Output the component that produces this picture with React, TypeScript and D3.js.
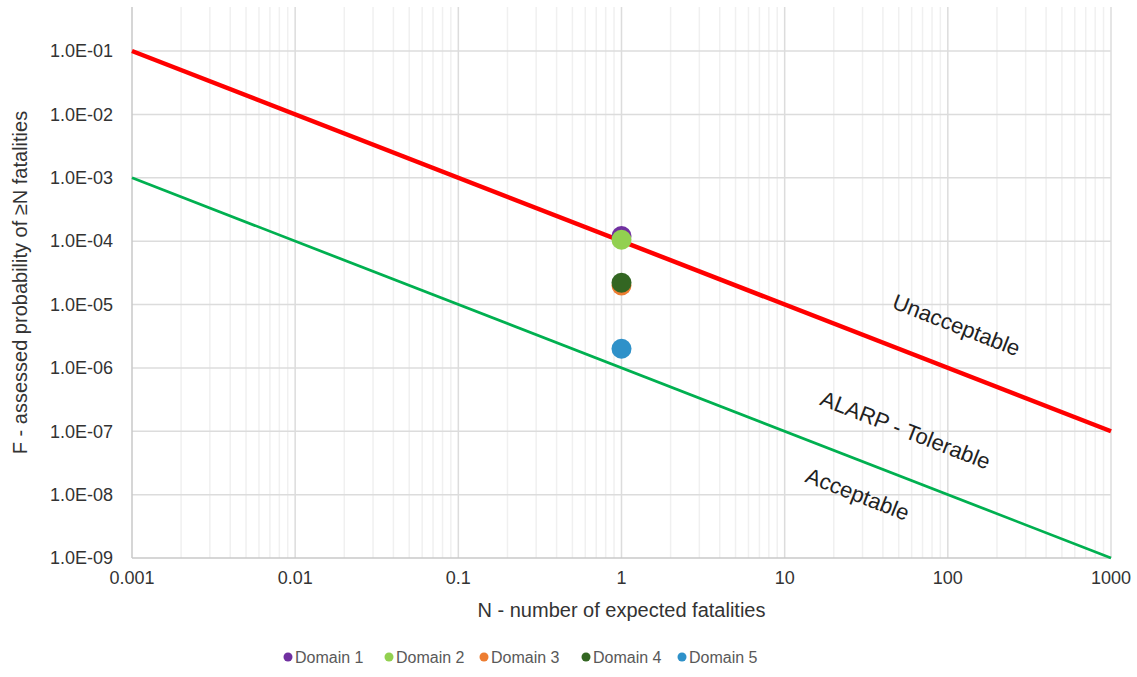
import * as d3 from "d3";
import { useRef, useEffect } from "react";

const xTicks = [0.001, 0.01, 0.1, 1, 10, 100, 1000];
const xTickLabels = ["0.001", "0.01", "0.1", "1", "10", "100", "1000"];
const yTicks = [1e-1, 1e-2, 1e-3, 1e-4, 1e-5, 1e-6, 1e-7, 1e-8, 1e-9];
const yTickLabels = ["1.0E-01", "1.0E-02", "1.0E-03", "1.0E-04", "1.0E-05", "1.0E-06", "1.0E-07", "1.0E-08", "1.0E-09"];

// criterion lines (N, F)
const unacceptableN = [0.001, 1000];
const unacceptableF = [1e-1, 1e-7];
const acceptableN = [0.001, 1000];
const acceptableF = [1e-3, 1e-9];

const domains = ["Domain 1", "Domain 2", "Domain 3", "Domain 4", "Domain 5"];
const domainN = [1, 1, 1, 1, 1];
const domainF = [1.2e-4, 1.05e-4, 2.0e-5, 2.2e-5, 2.0e-6];
const domainColors = ["#7030a0", "#92d050", "#ed7d31", "#336622", "#2e91c9"];

const regionLabels = ["Unacceptable", "ALARP - Tolerable", "Acceptable"];
const regionLabelN = [113, 55, 28];
const regionLabelF = [4.75e-6, 1.05e-7, 1.02e-8];

export default function App() {
  const svgRef = useRef(null);

  useEffect(() => {
    const width = 1137;
    const height = 677;
    const left = 132, right = 1111, top = 51, bottom = 558, plotTop = 7;
    const font = "'Liberation Sans', Arial, sans-serif";

    const svg = d3.select(svgRef.current);
    svg.selectAll("*").remove();
    svg.attr("width", width).attr("height", height);

    const x = d3.scaleLog().domain([0.001, 1000]).range([left, right]);
    const y = d3.scaleLog().domain([1e-9, 1e-1]).range([bottom, top]);

    // minor vertical grid
    const minor = [];
    for (let e = -3; e < 3; e++) {
      for (let m = 2; m <= 9; m++) minor.push(m * Math.pow(10, e));
    }
    svg.append("g").selectAll("line").data(minor).enter().append("line")
      .attr("x1", d => x(d)).attr("x2", d => x(d))
      .attr("y1", plotTop).attr("y2", bottom)
      .attr("stroke", "#f0f0f0").attr("stroke-width", 1.5);

    svg.append("g").selectAll("line").data(xTicks.slice(1)).enter().append("line")
      .attr("x1", d => x(d)).attr("x2", d => x(d))
      .attr("y1", plotTop).attr("y2", bottom)
      .attr("stroke", "#dcdcdc").attr("stroke-width", 1.5);

    svg.append("g").selectAll("line").data(yTicks.slice(0, -1)).enter().append("line")
      .attr("x1", left).attr("x2", right)
      .attr("y1", d => y(d)).attr("y2", d => y(d))
      .attr("stroke", "#dcdcdc").attr("stroke-width", 1.5);

    // axis lines
    svg.append("line").attr("x1", left).attr("x2", left).attr("y1", plotTop).attr("y2", bottom)
      .attr("stroke", "#c8c8c8").attr("stroke-width", 1.5);
    svg.append("line").attr("x1", left).attr("x2", right).attr("y1", bottom).attr("y2", bottom)
      .attr("stroke", "#c8c8c8").attr("stroke-width", 1.5);

    // tick labels
    svg.append("g").selectAll("text").data(yTicks).enter().append("text")
      .attr("x", left - 19).attr("y", d => y(d)).attr("dy", "0.35em")
      .attr("text-anchor", "end").attr("font-family", font).attr("font-size", 18)
      .attr("fill", "#333").text((d, i) => yTickLabels[i]);

    svg.append("g").selectAll("text").data(xTicks).enter().append("text")
      .attr("x", d => x(d)).attr("y", 578).attr("dy", "0.35em")
      .attr("text-anchor", "middle").attr("font-family", font).attr("font-size", 18)
      .attr("fill", "#333").text((d, i) => xTickLabels[i]);

    // axis titles
    svg.append("text").attr("x", (left + right) / 2).attr("y", 610).attr("dy", "0.35em")
      .attr("text-anchor", "middle").attr("font-family", font).attr("font-size", 20)
      .attr("fill", "#333").text("N - number of expected fatalities");
    svg.append("text")
      .attr("transform", `translate(20,${(plotTop + bottom) / 2}) rotate(-90)`)
      .attr("text-anchor", "middle").attr("dy", "0.35em").attr("font-family", font).attr("font-size", 20)
      .attr("fill", "#333").text("F - assessed probability of \u2265N fatalities");

    const line = d3.line().x(d => x(d[0])).y(d => y(d[1]));

    svg.append("path").datum(acceptableN.map((n, i) => [n, acceptableF[i]]))
      .attr("d", line).attr("fill", "none").attr("stroke", "#00b050").attr("stroke-width", 2.75);
    svg.append("path").datum(unacceptableN.map((n, i) => [n, unacceptableF[i]]))
      .attr("d", line).attr("fill", "none").attr("stroke", "#ff0000").attr("stroke-width", 4.5);

    // region labels
    const angle = Math.atan2(y(1e-2) - y(1e-1), x(0.01) - x(0.001)) * 180 / Math.PI;
    svg.append("g").selectAll("text").data(regionLabels).enter().append("text")
      .attr("transform", (d, i) => `translate(${x(regionLabelN[i])},${y(regionLabelF[i])}) rotate(${angle})`)
      .attr("text-anchor", "middle").attr("dy", "0.35em")
      .attr("font-family", font).attr("font-size", 22).attr("fill", "#222")
      .text(d => d);

    // domain points
    svg.append("g").selectAll("circle").data(domains).enter().append("circle")
      .attr("cx", (d, i) => x(domainN[i])).attr("cy", (d, i) => y(domainF[i]))
      .attr("r", 10).attr("fill", (d, i) => domainColors[i]);

    // legend
    const legendX = [288, 389, 484, 586, 682];
    const lg = svg.append("g").selectAll("g").data(domains).enter().append("g")
      .attr("transform", (d, i) => `translate(${legendX[i]},657)`);
    lg.append("circle").attr("r", 4.5).attr("fill", (d, i) => domainColors[i]);
    lg.append("text").attr("x", 7).attr("dy", "0.35em")
      .attr("font-family", font).attr("font-size", 16).attr("fill", "#595959")
      .text(d => d);
  }, []);

  return (
    <svg ref={svgRef} style={{ position: "absolute", left: 0, top: 0 }}></svg>
  );
}
